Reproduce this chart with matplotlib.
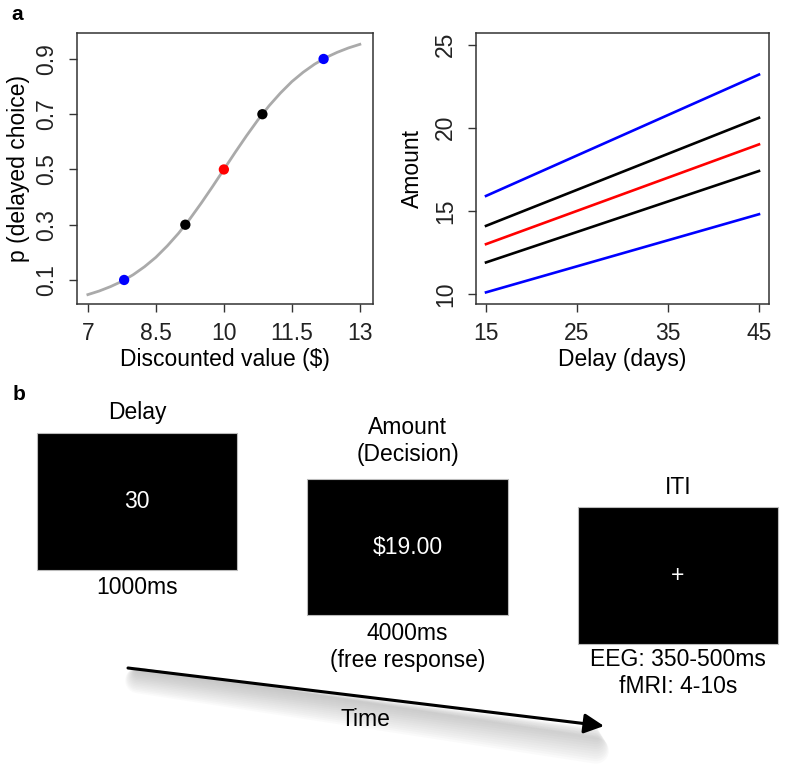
import matplotlib.pyplot as plt
import numpy as np
from matplotlib.patches import Rectangle

plt.rcParams['font.family'] = ['Liberation Sans', 'DejaVu Sans']

# panel a, left: p(delayed choice) vs discounted value
curve_x = [7.0, 7.25, 7.5, 7.75, 8.0, 8.25, 8.5, 8.75, 9.0, 9.25, 9.5, 9.75, 10.0,
           10.25, 10.5, 10.75, 11.0, 11.25, 11.5, 11.75, 12.0, 12.25, 12.5, 12.75, 13.0]
curve_p = [0.047, 0.060, 0.076, 0.095, 0.119, 0.148, 0.182, 0.223, 0.269, 0.321, 0.378, 0.438, 0.5,
           0.562, 0.622, 0.679, 0.731, 0.777, 0.818, 0.852, 0.881, 0.905, 0.924, 0.940, 0.953]
point_x = [7.8, 9.15, 10.0, 10.85, 12.2]
point_p = [0.1, 0.3, 0.5, 0.7, 0.9]
point_colors = ['blue', 'black', 'red', 'black', 'blue']

# panel a, right: amount vs delay
delay_days = [15, 45]
amount_lines = [[15.9, 23.2], [14.1, 20.6], [13.0, 19.0], [11.9, 17.4], [10.1, 14.8]]
line_colors = ['blue', 'black', 'red', 'black', 'blue']

# panel b: trial screens
screen_titles = ['Delay', 'Amount\n(Decision)', 'ITI']
screen_texts = ['30', '$19.00', '+']
screen_durations = ['1000ms', '4000ms\n(free response)', 'EEG: 350-500ms\nfMRI: 4-10s']

W, H = 785, 769
FS = 16.5
fig = plt.figure(figsize=(W / 100, H / 100), dpi=100)

# overlay in pixel coordinates for panel b and panel letters
bg = fig.add_axes([0, 0, 1, 1])
bg.set_xlim(0, W)
bg.set_ylim(H, 0)
bg.axis('off')

bg.text(17, 15, 'a', fontsize=15, fontweight='bold', ha='center', va='center')
bg.text(19, 395, 'b', fontsize=15, fontweight='bold', ha='center', va='center')

# boxes: (x0, y0, x1, y1) in pixels
boxes = [(37, 433, 237, 570), (307, 479, 508, 615), (578, 507, 778, 644)]
title_y = [412, 441, 488]
dur_y = [587, 647, 673]
for i, (x0, y0, x1, y1) in enumerate(boxes):
    cx = (x0 + x1) / 2
    bg.add_patch(Rectangle((x0, y0), x1 - x0, y1 - y0, facecolor='black', edgecolor='#bbbbbb', lw=0.8))
    bg.text(cx, (y0 + y1) / 2, screen_texts[i], color='white', fontsize=FS, ha='center', va='center')
    bg.text(cx, title_y[i], screen_titles[i], fontsize=FS, ha='center', va='center', linespacing=1.25)
    bg.text(cx, dur_y[i], screen_durations[i], fontsize=FS, ha='center', va='center', linespacing=1.25)

# time arrow with soft shadow
x_start, y_start, x_end, y_end = 128, 668, 604, 726
for k in range(14):
    d = 4 + k * 1.6
    bg.plot([x_start + 10, x_end - 8], [y_start + d * 0.5, y_end + d], color='gray',
            lw=3 + k * 1.2, alpha=0.035, solid_capstyle='round')
bg.annotate('', xy=(x_end, y_end), xytext=(x_start, y_start),
            arrowprops=dict(arrowstyle='-|>,head_length=0.6,head_width=0.3', lw=2.2,
                            color='black', mutation_scale=20, shrinkA=0, shrinkB=0))
bg.text(365, 720, 'Time', fontsize=FS, ha='center', va='center')


def style_axes(ax):
    for s in ax.spines.values():
        s.set_color('#333333')
        s.set_linewidth(1.1)
    ax.tick_params(direction='out', length=5.8, width=1.0, color='#333333',
                   labelsize=FS, pad=7, labelcolor='#222222')
    ax.tick_params(axis='y', labelrotation=90, pad=8)
    for lab in ax.get_yticklabels():
        lab.set_verticalalignment('center')


ax1 = fig.add_axes([77 / W, 1 - 304 / H, 296 / W, 271 / H])
ax1.plot(curve_x, curve_p, color='#aaaaaa', lw=2.0, zorder=2)
ax1.scatter(point_x, point_p, c=point_colors, s=55, zorder=3, edgecolors='none')
ax1.set_xlim(6.76, 13.29)
ax1.set_ylim(0.013, 0.994)
ax1.set_xticks([7, 8.5, 10, 11.5, 13])
ax1.set_xticklabels(['7', '8.5', '10', '11.5', '13'])
ax1.set_yticks([0.1, 0.3, 0.5, 0.7, 0.9])
ax1.set_yticklabels(['0.1', '0.3', '0.5', '0.7', '0.9'])
style_axes(ax1)
ax1.set_xlabel('Discounted value ($)', fontsize=FS)
ax1.set_ylabel('p (delayed choice)', fontsize=FS)
ax1.xaxis.label.set_verticalalignment('center')
ax1.yaxis.label.set_verticalalignment('center')
ax1.xaxis.set_label_coords(0.5, -56 / 271)
ax1.yaxis.set_label_coords(-58 / 296, 0.5)

ax2 = fig.add_axes([476 / W, 1 - 304 / H, 293 / W, 271 / H])
for vals, c in zip(amount_lines, line_colors):
    ax2.plot(delay_days, vals, color=c, lw=1.9)
ax2.set_xlim(13.9, 46.1)
ax2.set_ylim(9.4, 25.7)
ax2.set_xticks([15, 25, 35, 45])
ax2.set_yticks([10, 15, 20, 25])
style_axes(ax2)
ax2.set_xlabel('Delay (days)', fontsize=FS)
ax2.set_ylabel('Amount', fontsize=FS)
ax2.xaxis.label.set_verticalalignment('center')
ax2.yaxis.label.set_verticalalignment('center')
ax2.xaxis.set_label_coords(0.5, -56 / 271)
ax2.yaxis.set_label_coords(-64 / 293, 0.5)

fig.savefig('out.png', dpi=100)
